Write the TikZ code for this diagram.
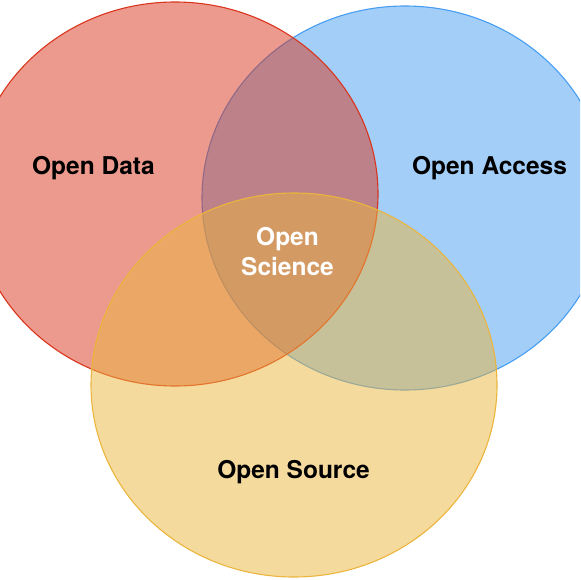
\documentclass[tikz,border=0pt]{standalone}
\usepackage{fontspec}
\setmainfont{TeX Gyre Heros}
\definecolor{datared}{RGB}{217,53,29}
\definecolor{accessblue}{RGB}{71,157,241}
\definecolor{sourceyellow}{RGB}{235,181,61}
\begin{document}
\begin{tikzpicture}[x=1pt,y=-1pt,
  set/.style={draw=#1,fill=#1,fill opacity=.5,line width=1.1pt},
  lbl/.style={font=\fontsize{24.5}{30}\selectfont\bfseries,align=center,inner sep=0pt}]
\useasboundingbox(0,0)rectangle(580,580);\clip(0,0)rectangle(580,580);
\draw[set=accessblue](405,198)ellipse[x radius=203pt,y radius=192pt];
\draw[set=datared](175,194)ellipse[x radius=203pt,y radius=192pt];
\draw[set=sourceyellow](294,385)ellipse[x radius=203pt,y radius=192pt];
\node[lbl,anchor=base](data)at(93.5,175){Open Data};
\node[lbl,anchor=base](access)at(489.5,175){Open Access};
\node[lbl,anchor=base](source)at(293.5,478){Open Source};
\node[lbl,white](science)at(287.5,251.5){Open\\Science};
\end{tikzpicture}
\end{document}
